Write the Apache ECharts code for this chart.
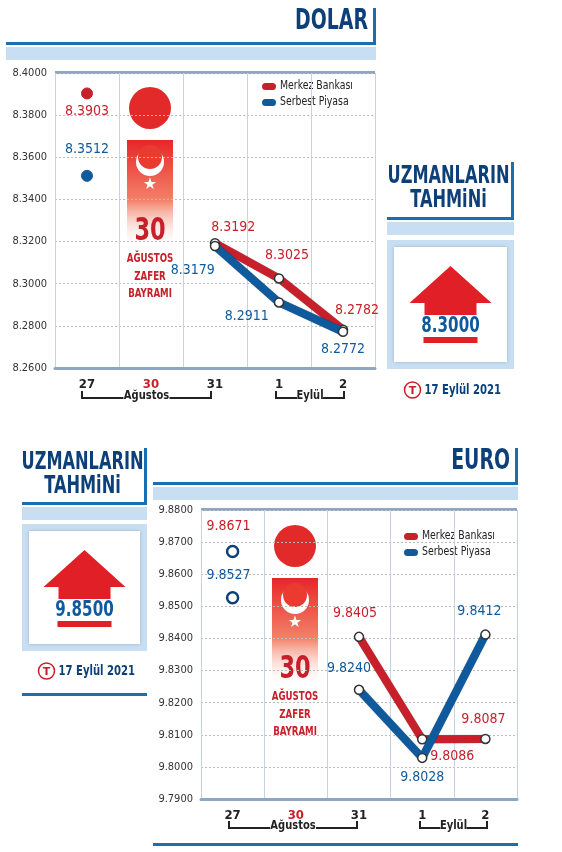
<!DOCTYPE html>
<html><head><meta charset="utf-8">
<script src="https://cdn.jsdelivr.net/npm/echarts@6/dist/echarts.min.js"></script>
<style>html,body{margin:0;padding:0;background:#fff}#c{width:562px;height:852px}</style>
</head><body><div id="c"></div>
<script>
const categories = ['27','30','31','1','2'];
const usdMerkez = [8.3903, null, 8.3192, 8.3025, 8.2782];
const usdSerbest = [8.3512, null, 8.3179, 8.2911, 8.2772];
const eurMerkez = [9.8671, null, 9.8405, 9.8086, 9.8087];
const eurSerbest = [9.8527, null, 9.8240, 9.8028, 9.8412];
const usdForecast = '8.3000';
const eurForecast = '9.8500';
const forecastDate = '17 Eylül 2021';

const RED = '#c8202a', BLUE = '#0f5a9c', DARK = '#0d4079', BAND = '#c8def2', F = '"DejaVu Sans Condensed", "DejaVu Sans", sans-serif';
const usdRedPos = ['bottom', null, 'right', 'top', 'top'];
const usdBluePos = ['top', null, 'left', 'left', 'bottom'];
const eurRedPos = ['top', null, 'top', 'bottom', 'top'];
const eurBluePos = ['top', null, 'top', 'bottom', 'top'];

function T(text, x, y, font, fill, align, sx) {
  return {type: 'text', x: x, y: y, scaleX: sx || 0.78, style: {text: text, x: 0, y: 0, fill: fill, font: font, align: align || 'center', verticalAlign: 'middle'}};
}
function mk(vals, color, pos, solidFirst, offs) {
  return vals.map((v, i) => v == null ? null : {
    value: v,
    symbolSize: i === 0 ? 11 : 9,
    itemStyle: i === 0 && solidFirst ? {color: color, borderColor: color} : {color: '#fff', borderColor: i === 0 ? DARK : '#333', borderWidth: i===0?2.5:1.5},
    label: {show: true, position: pos[i], offset: offs[i] || [0,0], color: color, fontFamily: F, fontSize: 14, formatter: p => p.value.toFixed(4)}
  });
}
function yAx(gi, min, max, itv) {
  return {type: 'value', gridIndex: gi, min: min, max: max, interval: itv,
    axisLine: {show: false}, axisTick: {show: false},
    axisLabel: {color: '#333', fontFamily: F, fontSize: 11, margin: 8, formatter: v => v.toFixed(4)},
    splitLine: {lineStyle: {color: '#bbb', type: [2, 2]}}};
}
function xAx(gi) {
  return {type: 'category', gridIndex: gi, data: categories, boundaryGap: true,
    axisLine: {lineStyle: {color: '#8da6c4', width: 3}}, axisTick: {show: false},
    axisLabel: {fontFamily: F, fontWeight: 'bold', fontSize: 13, margin: 10,
      color: (v) => v === '30' ? RED : '#222'},
    splitLine: {show: true, lineStyle: {color: '#c5d3e4', width: 1}}};
}
function flag(cx, top) {
  const g = [];
  g.push({type: 'circle', shape: {cx: cx, cy: top - 32, r: 21}, style: {fill: '#e32a2a'}});
  g.push({type: 'rect', shape: {x: cx - 23, y: top, width: 46, height: 110},
    style: {fill: {type: 'linear', x: 0, y: 0, x2: 0, y2: 1, colorStops: [{offset: 0, color: '#e8262a'}, {offset: 0.55, color: '#f3826a'}, {offset: 1, color: 'rgba(255,255,255,0)'}]}}});
  g.push({type: 'circle', shape: {cx: cx, cy: top + 22, r: 14}, style: {fill: '#fff'}});
  g.push({type: 'circle', shape: {cx: cx, cy: top + 17, r: 12}, style: {fill: '#ea3b30'}});
  g.push({type: 'text', style: {text: '★', x: cx, y: top + 45, fill: '#fff', font: '16px DejaVu Sans', align: 'center', verticalAlign: 'middle'}});
  g.push(T('30', cx, top + 92, 'bold 32px ' + F, RED));
  ['AĞUSTOS', 'ZAFER', 'BAYRAMI'].forEach((t, i) => g.push(T(t, cx, top + 119 + i * 17.5, 'bold 12px ' + F, RED, 'center', 0.8)));
  return g;
}
function header(text, x1, x2, ty, ly, center) {
  const g = [];
  if (center) {
    g.push(T(text[0], (x1 + x2) / 2 - 2, ty, 'bold 25px ' + F, DARK, 'center', 0.72));
    g.push(T(text[1], (x1 + x2) / 2 - 2, ty + 24, 'bold 25px ' + F, DARK, 'center', 0.72));
  } else {
    g.push(T(text, x2 - 8, ty, 'bold 28px ' + F, DARK, 'right', 0.75));
  }
  g.push({type: 'rect', shape: {x: x1, y: ly, width: x2 - x1, height: 3}, style: {fill: '#1a6fb0'}});
  g.push({type: 'rect', shape: {x: x2 - 3, y: ty - 14, width: 3, height: ly - ty + 17}, style: {fill: '#1a6fb0'}});
  g.push({type: 'rect', shape: {x: x1, y: ly + 5, width: x2 - x1, height: 13}, style: {fill: BAND}});
  return g;
}
function forecast(x1, x2, y1, y2, val, dateY) {
  const cx = (x1 + x2) / 2, g = [];
  g.push({type: 'rect', shape: {x: x1, y: y1, width: x2 - x1, height: y2 - y1}, style: {fill: BAND}});
  g.push({type: 'rect', shape: {x: x1 + 7, y: y1 + 7, width: x2 - x1 - 14, height: y2 - y1 - 14}, style: {fill: '#fff', shadowBlur: 3, shadowColor: 'rgba(0,0,0,0.2)'}});
  g.push({type: 'polygon', shape: {points: [[cx, y1 + 26], [cx + 41, y1 + 63], [cx + 26, y1 + 63], [cx + 26, y1 + 75], [cx - 26, y1 + 75], [cx - 26, y1 + 63], [cx - 41, y1 + 63]]}, style: {fill: '#e11f26'}});
  g.push(T(val, cx, y1 + 87, 'bold 21px ' + F, BLUE, 'center', 0.8));
  g.push({type: 'rect', shape: {x: cx - 27, y: y1 + 97, width: 54, height: 6}, style: {fill: '#e11f26'}});
  g.push({type: 'circle', shape: {cx: cx - 38, cy: dateY, r: 8}, style: {fill: '#fff', stroke: RED, lineWidth: 1.5}});
  g.push({type: 'text', style: {text: 'T', x: cx - 38, y: dateY + 1, fill: RED, font: 'bold 11px DejaVu Sans', align: 'center', verticalAlign: 'middle'}});
  g.push(T(forecastDate, cx - 26, dateY, 'bold 14px ' + F, DARK, 'left', 0.8));
  return g;
}
function months(xs, y) {
  const g = [], s = {stroke: '#222', lineWidth: 2};
  const mid = (xs[0] + xs[1]) / 2;
  g.push({type: 'polyline', shape: {points: [[xs[0], y - 7], [xs[0], y], [mid - 23, y]]}, style: s});
  g.push({type: 'polyline', shape: {points: [[mid + 23, y], [xs[1], y], [xs[1], y - 7]]}, style: s});
  g.push(T('Ağustos', mid, y - 2, 'bold 13px ' + F, '#222', 'center', 0.85));
  const m2 = (xs[2] + xs[3]) / 2;
  g.push({type: 'polyline', shape: {points: [[xs[2], y - 7], [xs[2], y], [m2 - 13, y]]}, style: s});
  g.push({type: 'polyline', shape: {points: [[m2 + 13, y], [xs[3], y], [xs[3], y - 7]]}, style: s});
  g.push(T('Eylül', m2, y - 2, 'bold 13px ' + F, '#222', 'center', 0.85));
  return g;
}
function legend(x, y) {
  const g = [];
  [['Merkez Bankası', RED], ['Serbest Piyasa', BLUE]].forEach((it, i) => {
    g.push({type: 'rect', shape: {x: x, y: y + i * 16 - 3, width: 14, height: 7, r: 3.5}, style: {fill: it[1]}});
    g.push(T(it[0], x + 18, y + i * 16, '13px ' + F, '#222', 'left', 0.8));
  });
  return g;
}
const lineSeries = (name, data, color, xi) => ({name: name, type: 'line', xAxisIndex: xi, yAxisIndex: xi, data: data, connectNulls: false,
  symbol: 'circle', lineStyle: {color: color, width: 8, shadowBlur: 1, shadowColor: 'rgba(0,0,0,0.5)'}, itemStyle: {color: color}, z: name.startsWith('S') ? 4 : 3});

let graphic = [];
graphic = graphic.concat(header('DOLAR', 6, 376, 22, 42, false));
graphic.push({type: 'rect', shape: {x: 55, y: 71, width: 320, height: 3}, style: {fill: '#8da6c4'}});
graphic = graphic.concat(flag(150, 140));
graphic = graphic.concat(legend(262, 86));
graphic = graphic.concat(months([82, 211, 276, 344], 398));
graphic = graphic.concat(header(['UZMANLARIN', 'TAHMiNi'], 387, 514, 176, 217, true));
graphic = graphic.concat(forecast(387, 514, 240, 369, usdForecast, 390));

graphic = graphic.concat(header(['UZMANLARIN', 'TAHMiNi'], 22, 147, 462, 502, true));
graphic = graphic.concat(forecast(22, 147, 524, 651, eurForecast, 671));
graphic.push({type: 'rect', shape: {x: 22, y: 693, width: 125, height: 3}, style: {fill: '#1a6fb0'}});
graphic = graphic.concat(header('EURO', 153, 518, 462, 482, false));
graphic.push({type: 'rect', shape: {x: 201, y: 508, width: 316, height: 3}, style: {fill: '#8da6c4'}});
graphic = graphic.concat(flag(295, 578));
graphic = graphic.concat(legend(404, 536));
graphic = graphic.concat(months([229, 357, 420, 487], 828));
graphic.push({type: 'rect', shape: {x: 153, y: 843, width: 365, height: 3}, style: {fill: '#1a6fb0'}});

const chart = echarts.init(document.getElementById('c'));
chart.setOption({
  animation: false,
  grid: [{left: 55, top: 73, width: 320, height: 295}, {left: 201, top: 510, width: 316, height: 289}],
  xAxis: [xAx(0), xAx(1)],
  yAxis: [yAx(0, 8.26, 8.40, 0.02), yAx(1, 9.79, 9.88, 0.01)],
  series: [
    lineSeries('Merkez Bankası', mk(usdMerkez, RED, usdRedPos, true, [[0,0],null,[-14,-16],[8,-6],[14,-2]]), RED, 0),
    lineSeries('Serbest Piyasa', mk(usdSerbest, BLUE, usdBluePos, true, [[0,-8],null,[10,24],[0,14],[0,0]]), BLUE, 0),
    lineSeries('Merkez Bankası', mk(eurMerkez, RED, eurRedPos, false, [[-4,-6],null,[-4,-6],[30,0],[-2,-2]]), RED, 1),
    lineSeries('Serbest Piyasa', mk(eurSerbest, BLUE, eurBluePos, false, [[-4,-4],null,[-10,-4],[0,2],[-6,-6]]), BLUE, 1)
  ],
  graphic: graphic
});
</script></body></html>
